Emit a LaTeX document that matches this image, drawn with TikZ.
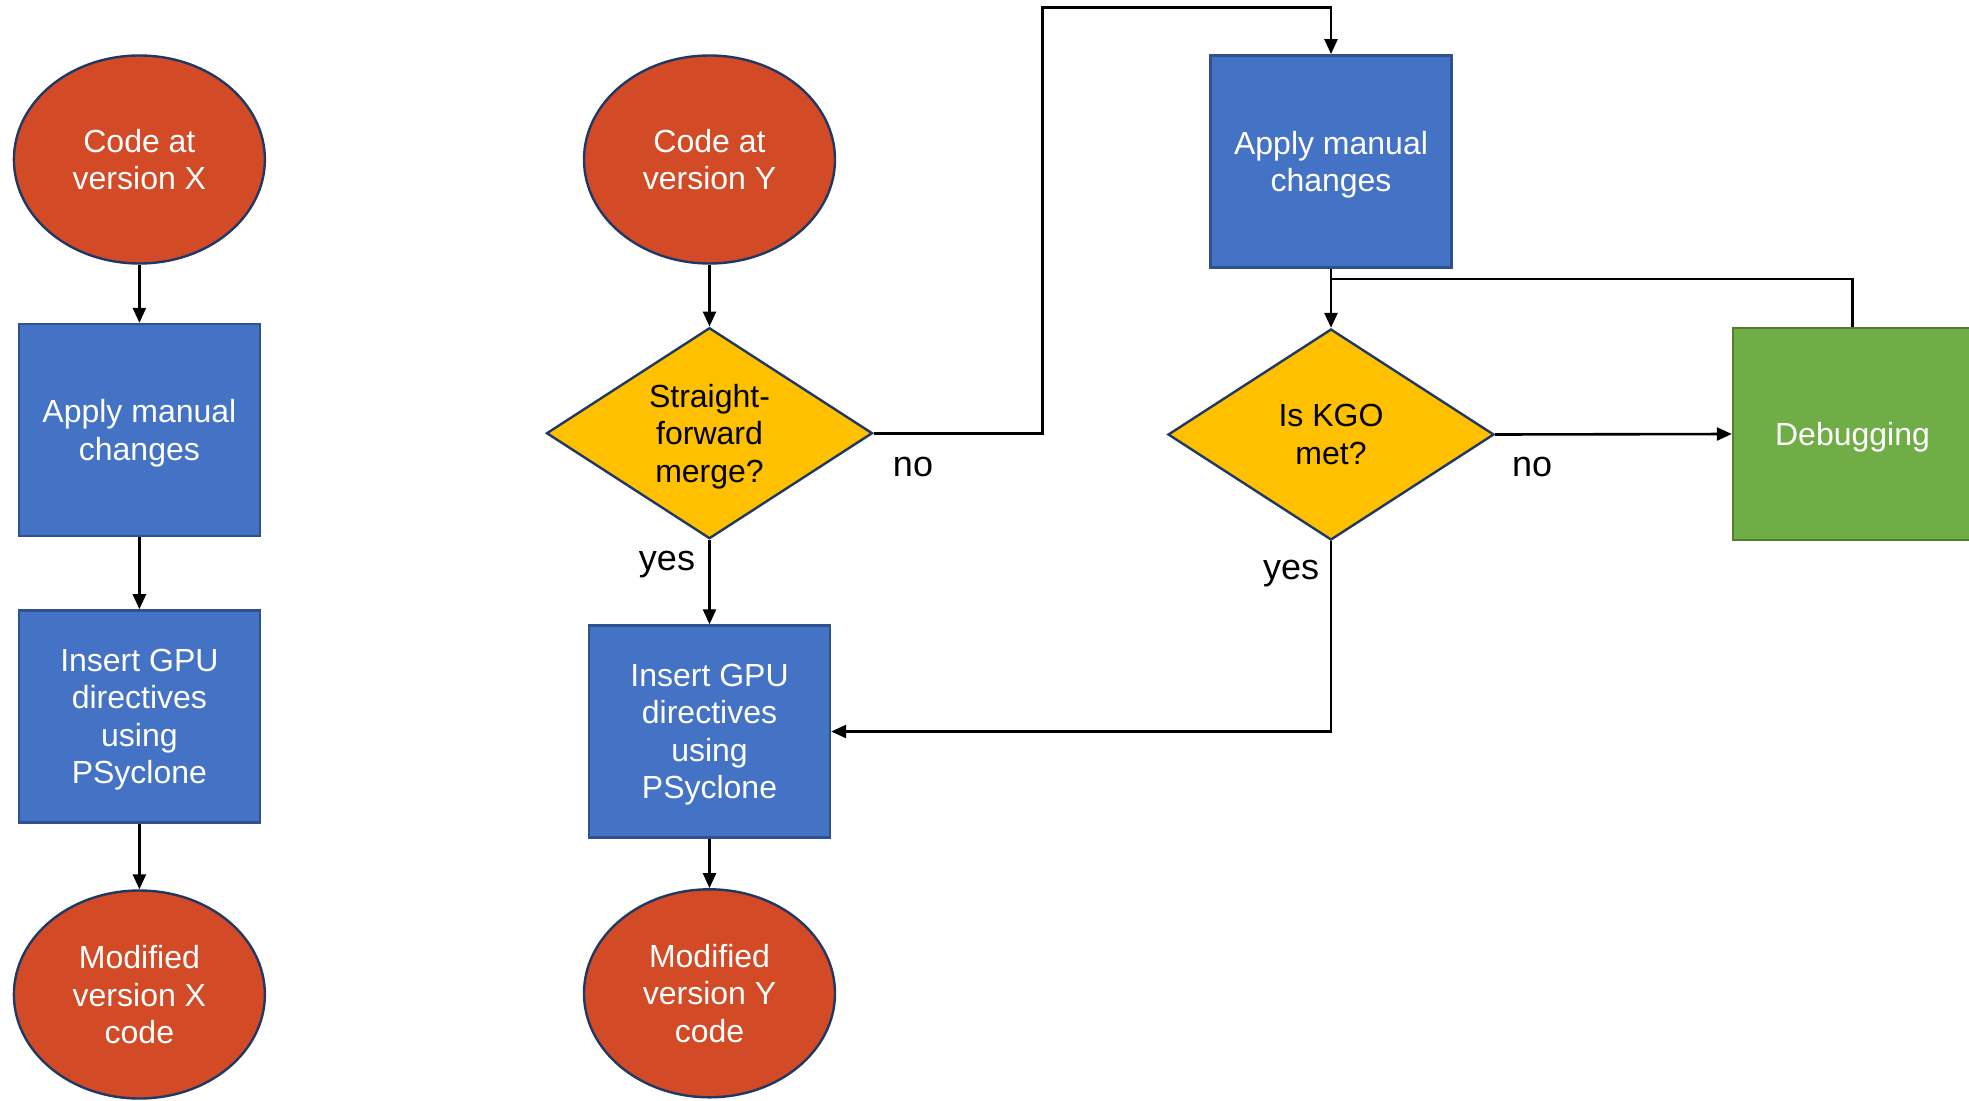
\documentclass[tikz,border=0pt]{standalone}
\usepackage{fontspec}
\setmainfont{Liberation Sans}
\usetikzlibrary{shapes.geometric,arrows.meta}
\definecolor{ered}{HTML}{D24A26}
\definecolor{eline}{HTML}{1F3864}
\definecolor{bblue}{HTML}{4472C4}
\definecolor{bline}{HTML}{2F528F}
\definecolor{dyel}{HTML}{FFC000}
\definecolor{ggreen}{HTML}{70AD47}
\definecolor{gline}{HTML}{507E32}
\tikzset{
  base/.style={inner sep=0pt, align=center, font=\fontsize{32}{37.5}\selectfont, line width=2.4pt,
    text depth=-5.5pt},
  oval/.style={base, ellipse, fill=ered, draw=eline, text=white, minimum width=251pt, minimum height=208pt},
  proc/.style={base, rectangle, fill=bblue, draw=bline, text=white, minimum width=241pt, minimum height=212pt},
  dbg/.style={base, rectangle, fill=ggreen, draw=gline, text=white, minimum width=239pt, minimum height=212pt},
  decide/.style={base, diamond, aspect=1.55, fill=dyel, draw=eline, text=black, minimum width=326pt, minimum height=211pt},
  conn/.style={line width=2.6pt, -{Triangle[length=15pt,width=13pt]}},
  plain/.style={line width=2.6pt},
  lbl/.style={font=\fontsize{36}{40}\selectfont, text=black, inner sep=0pt}
}
\begin{document}
\begin{tikzpicture}[x=1pt,y=-1pt]
\useasboundingbox (0,0) rectangle (1969,1100);
\clip (0,0) rectangle (1969,1100);
% left column
\node[oval] (cx) at (139.4,159.5) {Code at\\version X};
\node[proc] (ax) at (139.4,430) {Apply manual\\changes};
\node[proc] (ix) at (139.4,716.4) {Insert GPU\\directives\\using\\PSyclone};
\node[oval] (mx) at (139.4,994.5) {Modified\\version X\\code};
% middle column
\node[oval] (cy) at (709.5,159.5) {Code at\\version Y};
\node[decide] (d1) at (709.5,433.2) {Straight-\\forward\\merge?};
\node[proc] (iy) at (709.5,731.5) {Insert GPU\\directives\\using\\PSyclone};
\node[oval] (my) at (709.5,993.3) {Modified\\version Y\\code};
% right part
\node[proc] (ay) at (1331,161.3) {Apply manual\\changes};
\node[decide] (d2) at (1331,434.5) {Is KGO\\met?};
\node[dbg] (db) at (1852.5,434) {Debugging};
% helper coordinates
\coordinate (r1) at (1042.2,433.2);
\coordinate (r2) at (1042.2,7.5);
\coordinate (r3) at (1331,7.5);
\coordinate (j1) at (1331,278.8);
\coordinate (j2) at (1852.5,278.8);
% connectors
\draw[conn] (cx) -- (ax);
\draw[conn] (ax) -- (ix);
\draw[conn] (ix) -- (mx);
\draw[conn] (cy) -- (d1);
\draw[conn] (d1) -- (iy);
\draw[conn] (iy) -- (my);
\draw[conn] (d1.east) -- (r1) -- (r2) -- (r3) -- (ay.north);
\draw[conn] (ay) -- (d2);
\draw[plain] (db.north) -- (j2) -- (j1);
\draw[conn] (d2.east) -- (db.west);
\draw[conn] (d2.south) |- (iy.east);
% labels
\node[lbl] (no1) at (913,467) {no};
\node[lbl] (yes1) at (667,565) {yes};
\node[lbl] (no2) at (1532,467) {no};
\node[lbl] (yes2) at (1291,573.5) {yes};
\end{tikzpicture}
\end{document}
